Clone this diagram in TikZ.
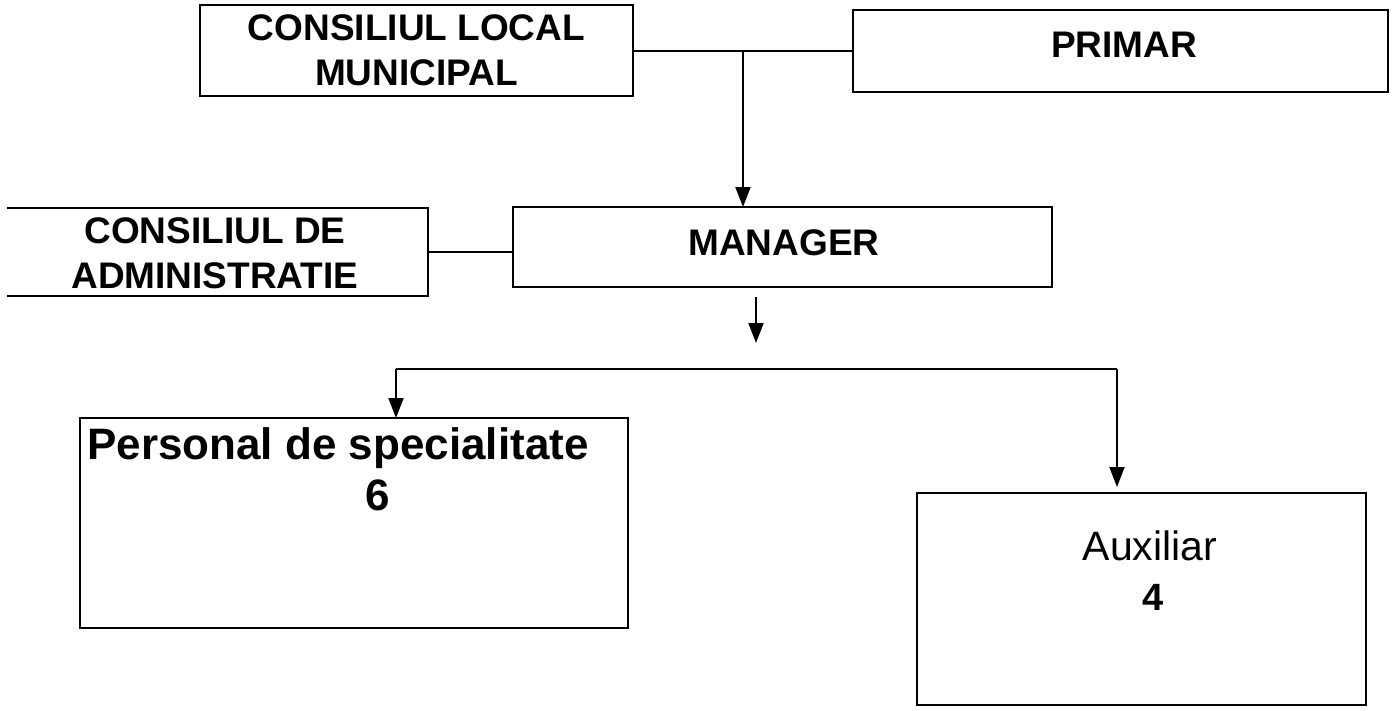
\documentclass[tikz,border=0pt]{standalone}
\usepackage{fontspec}
\setmainfont{Liberation Sans}
\usetikzlibrary{arrows.meta}
\begin{document}
\begin{tikzpicture}[x=1pt,y=-1pt,
  box/.style={draw, line width=2pt, inner sep=0pt, outer sep=0pt},
  frame/.style={draw=none, inner sep=0pt, outer sep=0pt},
  hd/.style={font=\bfseries\fontsize{37}{45}\selectfont, align=center, inner sep=0pt},
  big/.style={font=\bfseries\fontsize{44}{52}\selectfont, align=center, inner sep=0pt},
  reg/.style={font=\fontsize{41}{48}\selectfont, align=center, inner sep=0pt},
  conn/.style={line width=2pt},
  arr/.style={line width=2pt, -{Triangle[length=20pt,width=15pt]}}]
\useasboundingbox (0,0) rectangle (1395,710);

% boxes
\node[box, minimum width=433, minimum height=91] (clm) at (416.5,50.5) {};
\node[box, minimum width=535, minimum height=82] (primar) at (1120.5,51) {};
\node[box, minimum width=539, minimum height=80] (mgr) at (782.5,247) {};
\node[frame, minimum width=421, minimum height=88] (cda) at (217.5,252) {};
\draw[conn] (cda.north west) -- (cda.north east) -- (cda.south east) -- (cda.south west);
\node[box, minimum width=548, minimum height=210] (pers) at (354,523) {};
\node[box, minimum width=449, minimum height=212] (aux) at (1141.5,599) {};

% texts
\node[hd] (clmt) at (clm.center) {CONSILIUL LOCAL\\MUNICIPAL};
\node[hd] (primart) at (1124,45) {PRIMAR};
\node[hd] (mgrt) at (784,243) {MANAGER};
\node[hd] (cdat) at (215,253) {CONSILIUL DE\\ADMINISTRATIE};
\node[big] (perst) at (338,448) {Personal de specialitate};
\node[big] (pers6) at (378,495) {6};
\node[reg] (auxt) at (1150,546) {Auxiliar};
\node[reg, font=\bfseries\fontsize{38}{44}\selectfont] (aux4) at (1153,597) {4};

% connectors
\draw[conn] (clm.east) -- (clm.east -| primar.west);
\coordinate (j1) at (743,50.5);
\draw[arr] (j1) -- (j1 |- mgr.north);
\draw[conn] (cda.east) -- (cda.east -| mgr.west);
\coordinate (j2) at (756,297);
\coordinate (j3) at (756,343);
\draw[arr] (j2) -- (j3);
\coordinate (bl) at (396,369);
\coordinate (br) at (1117,369);
\coordinate (brend) at (1117,487);
\draw[conn] (bl) -- (br);
\draw[arr] (bl) -- (bl |- pers.north);
\draw[arr] (br) -- (brend);
\end{tikzpicture}
\end{document}
